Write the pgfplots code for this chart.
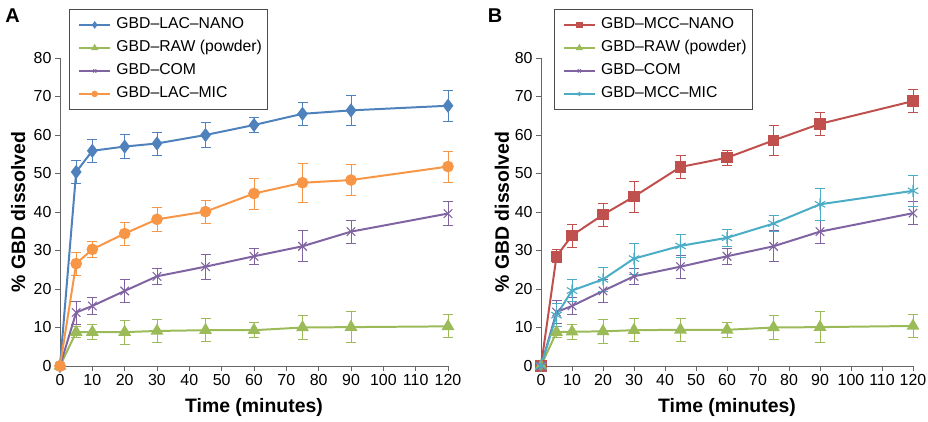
\documentclass[border=0pt]{standalone}
\usepackage{pgfplots}
\pgfplotsset{compat=1.18}
\usepackage{fontspec}
\setmainfont{Liberation Sans}
\definecolor{cblue}{HTML}{4F81BD}
\definecolor{cred}{HTML}{C0504D}
\definecolor{cgreen}{HTML}{9BBB59}
\definecolor{cpurple}{HTML}{8064A2}
\definecolor{ccyan}{HTML}{4BACC6}
\definecolor{corange}{HTML}{F79646}
\pgfplotsset{
  panel/.style={
    scale only axis, height=308bp, anchor=south west,
    xmin=0, xmax=120, ymin=0, ymax=80,
    xtick={0,10,...,120}, ytick={0,10,...,80},
    axis x line*=bottom, axis y line*=left,
    axis line style={-, draw=black!60, line width=1pt},
    tick align=outside, major tick length=5bp,
    tick style={draw=black!60, line width=0.9pt},
    tick label style={font=\fontsize{16}{19}\selectfont},
    /pgf/number format/assume math mode=true,
    xlabel={Time (minutes)}, ylabel={\% GBD dissolved},
    label style={font=\fontsize{19.5}{22}\selectfont\bfseries},
    xlabel style={at={(axis description cs:0.5,-0.136)}, anchor=center},
    clip=false,
    legend cell align=left,
    legend image code/.code={\path (0bp,0bp); \draw[mark repeat=2,mark phase=2,mark size=2.2bp] plot coordinates {(5.4bp,0bp)(21bp,0bp)(36.4bp,0bp)};},
    legend style={anchor=north west, draw=black!70, line width=0.8pt, fill=white,
      font=\fontsize{15.8}{19}\selectfont, row sep=4bp, column sep=2.3bp,
      inner xsep=3bp, inner ysep=6bp,
      nodes={inner xsep=3bp, inner ysep=2bp, text height=11.5bp, text depth=3.5bp}},
  },
  ser/.style={color=#1, line width=2pt, mark options={solid},
    error bars/y dir=both, error bars/y explicit,
    error bars/error bar style={line width=0.8pt, #1},
    error bars/error mark options={rotate=90, mark size=5bp, line width=0.8pt, #1}},
}
\begin{document}
\begin{tikzpicture}
\useasboundingbox (0bp,0bp) rectangle (928bp,422bp);
\node[font=\fontsize{20}{22}\selectfont\bfseries] at (12.5bp,406bp) {A};
\node[font=\fontsize{20}{22}\selectfont\bfseries] at (495bp,406bp) {B};
\begin{axis}[panel, at={(60bp,56bp)}, width=388bp,
  ylabel style={at={(axis description cs:-0.108,0.5)}, anchor=center},
  legend style={at={(0.024,1.159)}}]
\addplot[ser=cblue, mark=diamond*, mark size=5.5bp] table[x=t,y=v,y error=e,row sep=\\]{
t v e\\ 0 0 0\\ 5 50.4 3.0\\ 10 55.9 2.9\\ 20 57.0 3.2\\ 30 57.8 3.0\\ 45 60.0 3.2\\ 60 62.6 2.0\\ 75 65.5 3.0\\ 90 66.4 4.0\\ 120 67.6 4.1\\
};
\addlegendentry{GBD\textendash LAC\textendash NANO}
\addplot[ser=cgreen, mark=triangle*, mark size=5.5bp] table[x=t,y=v,y error=e,row sep=\\]{
t v e\\ 0 0 0\\ 5 8.8 1.5\\ 10 8.8 2.0\\ 20 8.8 3.1\\ 30 9.1 3.0\\ 45 9.3 3.0\\ 60 9.3 2.0\\ 75 10.0 3.1\\ 90 10.1 4.0\\ 120 10.3 3.0\\
};
\addlegendentry{GBD\textendash RAW (powder)}
\addplot[ser=cpurple, mark=x, mark size=6bp, mark options={line width=1.1pt}] table[x=t,y=v,y error=e,row sep=\\]{
t v e\\ 0 0 0\\ 5 13.9 3.0\\ 10 15.6 2.1\\ 20 19.5 3.0\\ 30 23.3 2.0\\ 45 25.8 3.2\\ 60 28.5 2.0\\ 75 31.1 4.0\\ 90 34.9 3.0\\ 120 39.6 3.2\\
};
\addlegendentry{GBD\textendash COM}
\addplot[ser=corange, mark=*, mark size=4.8bp] table[x=t,y=v,y error=e,row sep=\\]{
t v e\\ 0 0 0\\ 5 26.6 3.0\\ 10 30.3 2.0\\ 20 34.4 3.0\\ 30 38.1 3.2\\ 45 40.1 3.0\\ 60 44.8 4.0\\ 75 47.6 5.0\\ 90 48.3 4.0\\ 120 51.8 4.0\\
};
\addlegendentry{GBD\textendash LAC\textendash MIC}
\end{axis}
\begin{axis}[panel, at={(541bp,56bp)}, width=372bp,
  ylabel style={at={(axis description cs:-0.105,0.5)}, anchor=center},
  legend style={at={(0.035,1.159)}}]
\addplot[ser=cred, mark=square*, mark size=4.7bp] table[x=t,y=v,y error=e,row sep=\\]{
t v e\\ 0 0 0\\ 5 28.5 1.7\\ 10 33.9 3.0\\ 20 39.3 3.0\\ 30 44.0 4.0\\ 45 51.7 3.0\\ 60 54.1 1.9\\ 75 58.6 4.0\\ 90 62.9 3.0\\ 120 68.8 3.0\\
};
\addlegendentry{GBD\textendash MCC\textendash NANO}
\addplot[ser=cgreen, mark=triangle*, mark size=5.5bp] table[x=t,y=v,y error=e,row sep=\\]{
t v e\\ 0 0 0\\ 5 8.8 1.5\\ 10 8.9 2.0\\ 20 9.0 3.1\\ 30 9.3 3.0\\ 45 9.4 3.0\\ 60 9.4 2.0\\ 75 10.0 3.1\\ 90 10.1 4.0\\ 120 10.4 3.0\\
};
\addlegendentry{GBD\textendash RAW (powder)}
\addplot[ser=cpurple, mark=x, mark size=6bp, mark options={line width=1.1pt}] table[x=t,y=v,y error=e,row sep=\\]{
t v e\\ 0 0 0\\ 5 14.0 3.0\\ 10 15.6 2.1\\ 20 19.5 3.0\\ 30 23.3 2.0\\ 45 25.8 3.0\\ 60 28.5 2.0\\ 75 31.1 4.0\\ 90 34.9 3.0\\ 120 39.7 3.0\\
};
\addlegendentry{GBD\textendash COM}
\addplot[ser=ccyan, mark=asterisk, mark size=6bp, mark options={line width=1.1pt}] table[x=t,y=v,y error=e,row sep=\\]{
t v e\\ 0 0 0\\ 5 13.2 3.0\\ 10 19.6 2.8\\ 20 22.5 3.0\\ 30 27.9 4.0\\ 45 31.2 3.0\\ 60 33.3 2.3\\ 75 37.0 2.1\\ 90 42.0 4.2\\ 120 45.5 4.0\\
};
\addlegendentry{GBD\textendash MCC\textendash MIC}
\end{axis}
\end{tikzpicture}
\end{document}
